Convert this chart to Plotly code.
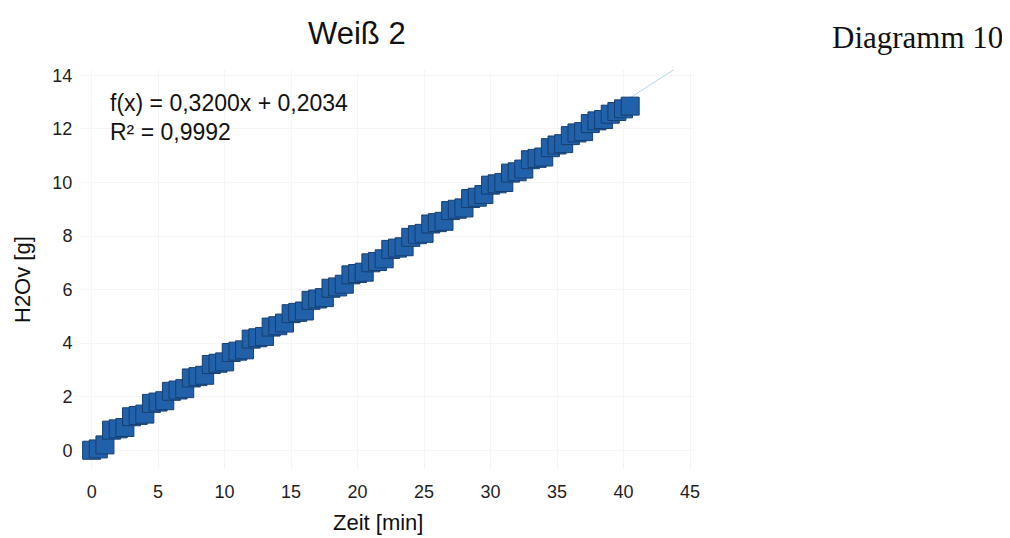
import plotly.graph_objects as go

# ---- data ----
zeit_min = [0.0, 0.5, 1.0, 1.5, 2.0, 2.5, 3.0, 3.5, 4.0, 4.5, 5.0, 5.5,
            6.0, 6.5, 7.0, 7.5, 8.0, 8.5, 9.0, 9.5, 10.0, 10.5, 11.0, 11.5,
            12.0, 12.5, 13.0, 13.5, 14.0, 14.5, 15.0, 15.5, 16.0, 16.5, 17.0, 17.5,
            18.0, 18.5, 19.0, 19.5, 20.0, 20.5, 21.0, 21.5, 22.0, 22.5, 23.0, 23.5,
            24.0, 24.5, 25.0, 25.5, 26.0, 26.5, 27.0, 27.5, 28.0, 28.5, 29.0, 29.5,
            30.0, 30.5, 31.0, 31.5, 32.0, 32.5, 33.0, 33.5, 34.0, 34.5, 35.0, 35.5,
            36.0, 36.5, 37.0, 37.5, 38.0, 38.5, 39.0, 39.5, 40.0, 40.5]
h2ov_g = [0.00, 0.05, 0.20, 0.75, 0.80, 0.85, 1.25, 1.30, 1.35, 1.75, 1.80, 1.85,
          2.20, 2.25, 2.30, 2.70, 2.75, 2.80, 3.20, 3.25, 3.30, 3.65, 3.70, 3.75,
          4.15, 4.20, 4.25, 4.60, 4.65, 4.75, 5.10, 5.15, 5.20, 5.60, 5.65, 5.70,
          6.05, 6.10, 6.20, 6.55, 6.60, 6.65, 7.00, 7.05, 7.15, 7.50, 7.55, 7.60,
          7.95, 8.05, 8.10, 8.45, 8.50, 8.55, 8.95, 9.00, 9.05, 9.40, 9.45, 9.55,
          9.90, 9.95, 10.00, 10.35, 10.40, 10.50, 10.85, 10.90, 10.95, 11.30, 11.40, 11.45,
          11.75, 11.85, 11.90, 12.20, 12.30, 12.35, 12.55, 12.65, 12.75, 12.85]
trend_slope = 0.3200
trend_intercept = 0.2034
trend_r2 = 0.9992
trend_x = [0, 45]
x_ticks = [0, 5, 10, 15, 20, 25, 30, 35, 40, 45]
y_ticks = [0, 2, 4, 6, 8, 10, 12, 14]

# ---- layout geometry (page body has an 8px margin) ----
OFF = 8
W, H = 1010 - OFF, 538 - OFF
ML, MR, MT, MB = 81 - OFF, 316, 70 - OFF, 69
PW, PH = W - ML - MR, H - MT - MB


def px(x):
    return (x - OFF - ML) / PW


def py(y):
    return (H - MB - (y - OFF)) / PH


FONT = "Liberation Sans, Arial, sans-serif"


def de(v):
    return f"{v:.4f}".replace(".", ",")


fig = go.Figure()
fig.add_trace(go.Scatter(
    x=trend_x, y=[trend_slope * v + trend_intercept for v in trend_x],
    mode="lines", line=dict(color="#a9d6ef", width=1), hoverinfo="skip",
    showlegend=False))
fig.add_trace(go.Scatter(
    x=zeit_min, y=h2ov_g, mode="markers",
    marker=dict(symbol="square", size=18, color="#2161a9",
                line=dict(color="#173f70", width=1)),
    showlegend=False))

axis_common = dict(showline=False, zeroline=False, showgrid=True,
                   gridcolor="#f5f5f5", gridwidth=1,
                   tickfont=dict(family=FONT, size=18, color="#1e1e1e"),
                   ticks="outside", tickcolor="rgba(0,0,0,0)")
fig.update_xaxes(range=[-0.8, 45.3], tickvals=x_ticks, ticklen=6, **axis_common)
fig.update_yaxes(range=[-0.7, 14.2], tickvals=y_ticks, ticklen=4, **axis_common)

ann = [
    dict(text="Weiß 2", x=px(357), y=py(33), font=dict(size=31, family=FONT, color="#111")),
    dict(text="Diagramm 10", x=px(830), y=py(37), xanchor="left",
         font=dict(size=31, family="Liberation Serif, Times New Roman, serif", color="#111")),
    dict(text="Zeit [min]", x=px(378), y=py(522), font=dict(size=22, family=FONT, color="#111")),
    dict(text="H2Ov [g]", x=px(22), y=py(280), textangle=-90,
         font=dict(size=22, family=FONT, color="#111")),
    dict(text=f"f(x) = {de(trend_slope)}x + {de(trend_intercept)}",
         x=px(108), y=py(103), xanchor="left", font=dict(size=23, family=FONT, color="#111")),
    dict(text=f"R² = {de(trend_r2)}", x=px(108), y=py(132),
         xanchor="left", font=dict(size=23, family=FONT, color="#111")),
]
for a in ann:
    a.setdefault("xanchor", "center")
    a.update(xref="paper", yref="paper", yanchor="middle", showarrow=False)

fig.update_layout(width=W, height=H, margin=dict(l=ML, r=MR, t=MT, b=MB),
                  paper_bgcolor="white", plot_bgcolor="white",
                  annotations=ann)
fig.write_html("out.html")
